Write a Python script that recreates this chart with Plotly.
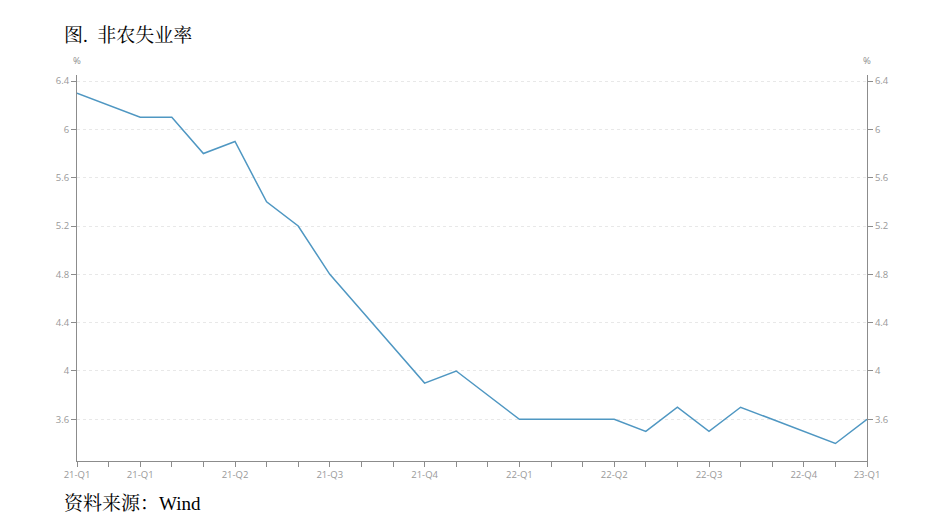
import plotly.graph_objects as go

months = ["2021-01", "2021-02", "2021-03", "2021-04", "2021-05", "2021-06",
          "2021-07", "2021-08", "2021-09", "2021-10", "2021-11", "2021-12",
          "2022-01", "2022-02", "2022-03", "2022-04", "2022-05", "2022-06",
          "2022-07", "2022-08", "2022-09", "2022-10", "2022-11", "2022-12",
          "2023-01", "2023-02"]
unemployment = [6.3, 6.2, 6.1, 6.1, 5.8, 5.9, 5.4, 5.2, 4.8, 4.5, 4.2, 3.9,
                4.0, 3.8, 3.6, 3.6, 3.6, 3.6, 3.5, 3.7, 3.5, 3.7, 3.6, 3.5,
                3.4, 3.6]
tick_labels = ["21-Q1", "", "21-Q1", "", "", "21-Q2", "", "", "21-Q3", "", "",
               "21-Q4", "", "", "22-Q1", "", "", "22-Q2", "", "", "22-Q3", "",
               "", "22-Q4", "", "23-Q1"]
y_ticks = [3.6, 4.0, 4.4, 4.8, 5.2, 5.6, 6.0, 6.4]
y_tick_text = ["3.6", "4", "4.4", "4.8", "5.2", "5.6", "6", "6.4"]

LINE = "#4f97c2"
AXIS = "#8c8c8c"
TICKF = dict(family="Open Sans, Noto Sans, sans-serif", size=9.5, color="#999999")
SERIF = "Liberation Serif, Noto Serif CJK SC, Noto Sans CJK SC, serif"

fig = go.Figure()
fig.add_trace(go.Scatter(x=months, y=unemployment, mode="lines",
                         line=dict(color=LINE, width=1.5), showlegend=False))
fig.add_trace(go.Scatter(x=months, y=unemployment, mode="lines", yaxis="y2",
                         line=dict(color="rgba(0,0,0,0)", width=0),
                         hoverinfo="skip", showlegend=False))

yr = [3.255, 6.45]
fig.update_layout(
    width=939, height=528,
    margin=dict(l=69, r=80, t=67, b=75),
    paper_bgcolor="white", plot_bgcolor="white",
    xaxis=dict(type="category", range=[0, len(months) - 1],
               tickmode="array", tickvals=months, ticktext=tick_labels,
               showline=True, linecolor=AXIS, linewidth=1,
               ticks="outside", ticklen=5, tickcolor=AXIS,
               showgrid=False, zeroline=False, tickfont=TICKF),
    yaxis=dict(range=yr, tickvals=y_ticks, ticktext=y_tick_text,
               showline=True, linecolor=AXIS, linewidth=1,
               ticks="outside", ticklen=5, tickcolor=AXIS,
               showgrid=True, gridcolor="#e8e8e8", griddash="dot", gridwidth=1,
               zeroline=False, tickfont=TICKF),
    yaxis2=dict(range=yr, tickvals=y_ticks, ticktext=y_tick_text,
                overlaying="y", side="right",
                showline=True, linecolor=AXIS, linewidth=1,
                ticks="outside", ticklen=5, tickcolor=AXIS,
                showgrid=False, zeroline=False, tickfont=TICKF),
    annotations=[
        dict(text="%", xref="paper", yref="paper", x=0, y=1, yshift=6,
             showarrow=False, font=dict(TICKF, color="#8c8c8c"),
             xanchor="center", yanchor="bottom"),
        dict(text="%", xref="paper", yref="paper", x=1, y=1, yshift=6,
             showarrow=False, font=dict(TICKF, color="#8c8c8c"),
             xanchor="center", yanchor="bottom"),
        dict(text="图.  非农失业率", xref="paper", yref="paper",
             x=-15 / 790, y=1, yshift=40, showarrow=False,
             xanchor="left", yanchor="middle",
             font=dict(family=SERIF, size=19, color="black")),
        dict(text="资料来源：Wind", xref="paper", yref="paper",
             x=-15 / 790, y=0, yshift=-42, showarrow=False,
             xanchor="left", yanchor="middle",
             font=dict(family=SERIF, size=19, color="black")),
    ],
)

fig.write_html("out.html")
